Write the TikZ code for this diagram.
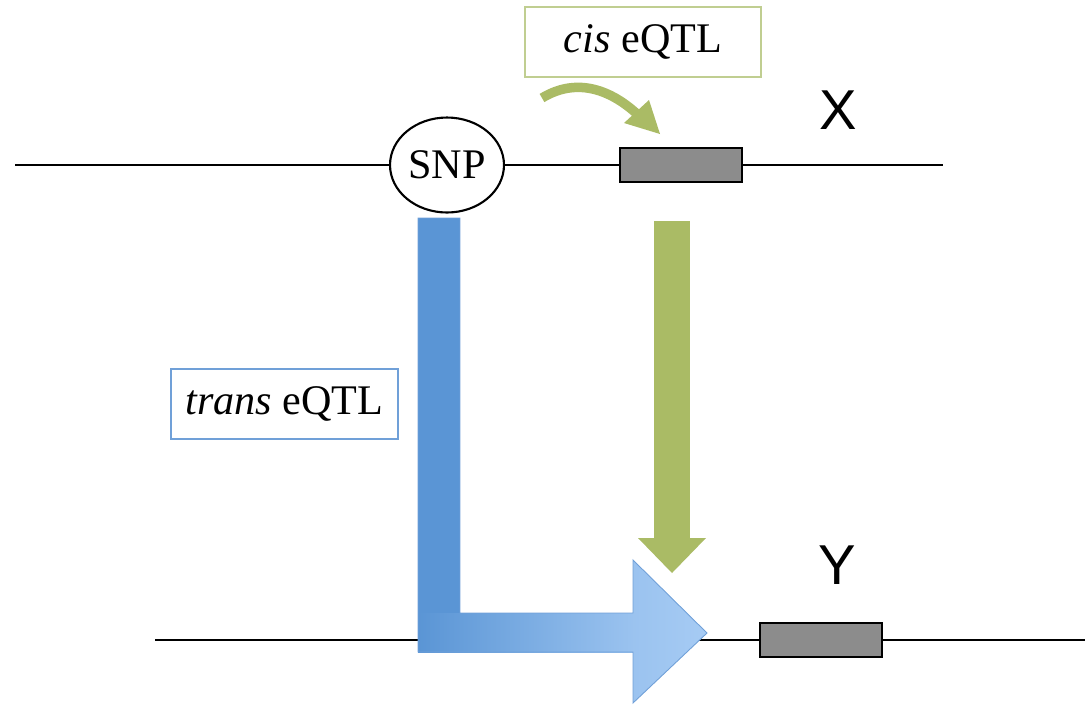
\documentclass[tikz,border=0pt]{standalone}
\usepackage{fontspec}
\setmainfont{Liberation Serif}
\newfontfamily\sansf{Liberation Sans}
\usetikzlibrary{shapes.geometric}
\definecolor{cisgreen}{RGB}{170,187,101}
\definecolor{cisedge}{RGB}{192,206,145}
\definecolor{bluedark}{RGB}{90,149,213}
\definecolor{bluelight}{RGB}{166,203,244}
\definecolor{blueedge}{RGB}{112,160,216}
\definecolor{genegray}{RGB}{140,140,140}
\begin{document}
\begin{tikzpicture}[x=0.02cm,y=-0.02cm,
  dna/.style={line width=1.2pt},
  gene/.style={draw=black, line width=1.2pt, fill=genegray, minimum width=2.44cm, minimum height=0.68cm, inner sep=0},
  labbox/.style={font=\fontsize{24}{28}\selectfont, fill=white, inner sep=0, minimum height=1.4cm, line width=1.1pt},
  big/.style={font=\sansf\fontsize{32}{36}\selectfont, inner sep=0}]
\useasboundingbox (0,0) rectangle (1089,704);
% nodes
\node[ellipse, draw, line width=1.2pt, fill=white, minimum width=2.28cm, minimum height=1.9cm, inner sep=0, font=\fontsize{24}{28}\selectfont] (snp) at (447,165) {SNP};
\node[gene] (genex) at (681,165) {};
\node[gene] (geney) at (821,640) {};
\coordinate (ta) at (15,165);
\coordinate (tb) at (943,165);
\coordinate (ba) at (155,640);
\coordinate (bb) at (1085,640);
\node[big] (xl) at (838,110) {X};
\node[big] (yl) at (837,565) {Y};
\node[labbox, draw=cisedge, minimum width=4.72cm] (cis) at (643,42) {\textit{cis} eQTL};
\node[labbox, draw=blueedge, minimum width=4.54cm] (trans) at (284.5,404) {\textit{trans} eQTL};
% DNA lines
\draw[dna] (ta) -- (snp);
\draw[dna] (snp) -- (genex);
\draw[dna] (genex) -- (tb);
\draw[dna] (ba) -- (geney);
\draw[dna] (geney) -- (bb);
% trans arrow
\fill[bluedark] (418,218) rectangle (460,652);
\shade[left color=bluedark, right color=bluelight!85!bluedark] (418,613) rectangle (634,652);
\shade[left color=bluelight!85!bluedark, right color=bluelight] (633,560) -- (707,633) -- (633,703) -- cycle;
\draw[blueedge, line width=0.5pt, line join=miter] (418,218) -- (460,218) -- (460,613) -- (633,613) -- (633,560) -- (707,633) -- (633,703) -- (633,652) -- (418,652) -- cycle;
% cis arrows
\fill[cisgreen] (654,221) rectangle (690,539);
\fill[cisgreen] (638,538) -- (706,538) -- (672,573) -- cycle;
\draw[cisgreen, line width=0.19cm] (542,98) .. controls (575,78) and (608,88) .. (636,113);
\fill[cisgreen] (624,123) -- (649,100) -- (660,134) -- cycle;
\end{tikzpicture}
\end{document}
